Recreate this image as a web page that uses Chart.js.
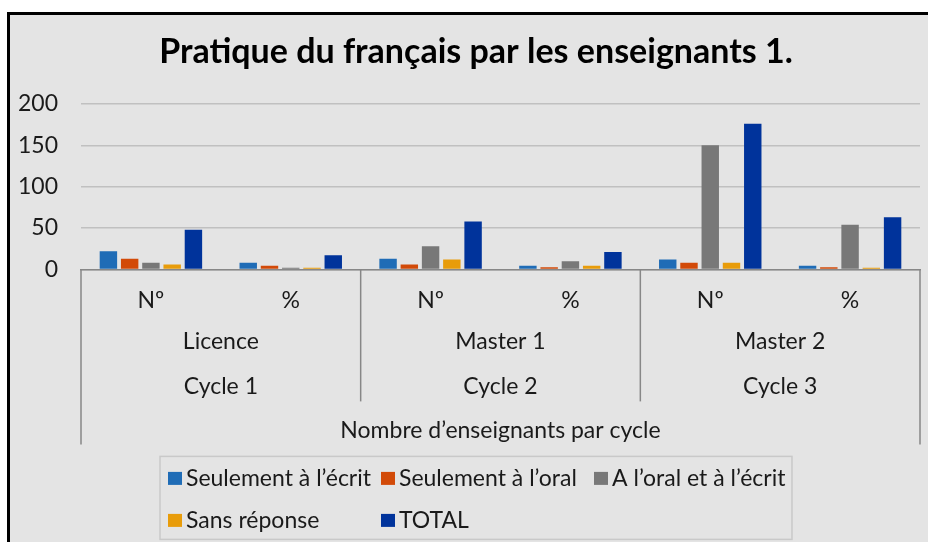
<!DOCTYPE html>
<html><head><meta charset="utf-8">
<script src="https://cdn.jsdelivr.net/npm/chart.js@4.4.1/dist/chart.umd.min.js"></script>
<style>
html,body{margin:0;padding:0;background:#fff;width:928px;height:542px;overflow:hidden;}
#frame{position:absolute;left:7px;top:12px;border-left:3px solid #000;border-top:3px solid #000;background:#e4e4e4;width:932px;height:540px;}
#frame canvas{display:block;}
</style></head><body>
<div id="frame"><canvas id="c" width="932" height="540"></canvas></div>
<script>
const titleText = 'Pratique du français par les enseignants 1.';
const categories = ['Nº', '%', 'Nº', '%', 'Nº', '%'];
const programmes = ['Licence', 'Master 1', 'Master 2'];
const cycles = ['Cycle 1', 'Cycle 2', 'Cycle 3'];
const axisTitle = 'Nombre d’enseignants par cycle';
const seriesNames = ['Seulement à l’écrit', 'Seulement à l’oral', 'A l’oral et à l’écrit', 'Sans réponse', 'TOTAL'];
const seulementEcrit = [22, 8, 13, 4.5, 12, 4.5];
const seulementOral = [13, 4.5, 6, 2.5, 8, 2.5];
const oralEtEcrit = [8, 2, 28, 10, 150, 54];
const sansReponse = [6, 2, 12, 4.5, 8, 2];
const totalValues = [48, 17, 58, 21, 176, 63];
const yTickValues = [0, 50, 100, 150, 200];
const seriesColors = ['#1f6cb6', '#d24a08', '#787878', '#e89c0a', '#00339b'];

const FONT = 'Lato, "Liberation Sans", sans-serif';
const TEXT = '#1a1a1a';

const multiLevelAxis = {
  id: 'multiLevelAxis',
  afterDraw(chart) {
    const { ctx, chartArea: ca, scales: { x } } = chart;
    const per = categories.length / programmes.length;
    const edge = k => {
      if (k === 0) return ca.left;
      if (k === categories.length) return ca.right;
      return (x.getPixelForValue(k - 1) + x.getPixelForValue(k)) / 2;
    };
    const base = ca.bottom;
    ctx.save();
    ctx.strokeStyle = '#878787';
    ctx.lineWidth = 1.5;
    [ca.left, ca.right].forEach(px => {
      ctx.beginPath(); ctx.moveTo(px, base); ctx.lineTo(px, base + 175); ctx.stroke();
    });
    for (let g = 1; g < programmes.length; g++) {
      const px = edge(g * per);
      ctx.beginPath(); ctx.moveTo(px, base); ctx.lineTo(px, base + 132); ctx.stroke();
    }
    ctx.fillStyle = TEXT;
    ctx.font = '23px ' + FONT;
    ctx.textAlign = 'center';
    ctx.textBaseline = 'middle';
    for (let g = 0; g < programmes.length; g++) {
      const cx = (edge(g * per) + edge((g + 1) * per)) / 2;
      ctx.fillText(programmes[g], cx, base + 72);
      ctx.fillText(cycles[g], cx, base + 117);
    }
    ctx.fillText(axisTitle, (ca.left + ca.right) / 2, base + 161);

    // legend
    const colW = 213, cols = 3;
    const boxW = colW * cols - 7;
    const boxL = chart.width / 2 - boxW / 2;
    const boxT = base + 187;
    ctx.strokeStyle = '#c9c9c9';
    ctx.lineWidth = 1.5;
    ctx.strokeRect(boxL, boxT, boxW, 83);
    ctx.textAlign = 'left';
    chart.data.datasets.forEach((ds, i) => {
      const col = i % cols, row = Math.floor(i / cols);
      const ix = boxL + 8 + col * colW;
      const iy = boxT + 22 + row * 42;
      ctx.fillStyle = ds.backgroundColor;
      ctx.fillRect(ix, iy - 6.5, 14, 13);
      ctx.fillStyle = TEXT;
      ctx.fillText(ds.label, ix + 18, iy);
    });
    ctx.restore();
  }
};

const seriesData = [seulementEcrit, seulementOral, oralEtEcrit, sansReponse, totalValues];

new Chart(document.getElementById('c'), {
  type: 'bar',
  data: {
    labels: categories,
    datasets: seriesNames.map((name, i) => ({
      label: name,
      data: seriesData[i],
      backgroundColor: seriesColors[i],
      borderWidth: 0,
      categoryPercentage: 0.76,
      barPercentage: 0.82
    }))
  },
  options: {
    responsive: false,
    devicePixelRatio: 1,
    animation: false,
    layout: { padding: { left: 0, right: 0, top: 0, bottom: 224 } },
    plugins: {
      legend: { display: false },
      tooltip: { enabled: false },
      title: {
        display: true,
        text: titleText,
        color: '#000',
        font: { family: FONT, size: 34, weight: 'bold' },
        padding: { top: 16.6, bottom: 31.6 }
      }
    },
    scales: {
      x: {
        grid: { display: false, drawTicks: false },
        border: { display: true, color: '#878787', width: 1.5 },
        ticks: { color: TEXT, font: { family: FONT, size: 23 }, padding: 17 }
      },
      y: {
        min: 0, max: 200,
        afterBuildTicks: s => { s.ticks = yTickValues.map(v => ({ value: v })); },
        afterFit: s => { s.width = 71; },
        grid: { color: '#c0c0c0', lineWidth: 1.5, drawTicks: false },
        border: { display: false },
        ticks: { color: TEXT, font: { family: FONT, size: 23 }, padding: 23 }
      },
      spacer: {
        type: 'linear',
        position: 'right',
        display: true,
        grid: { display: false, drawTicks: false },
        border: { display: false },
        ticks: { display: false },
        afterFit: s => { s.width = 22; }
      }
    }
  },
  plugins: [multiLevelAxis]
});
</script>
</body></html>
